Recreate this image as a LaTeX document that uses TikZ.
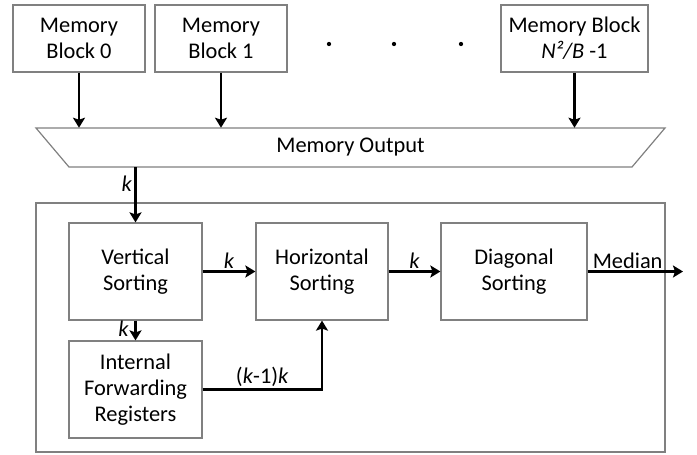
\documentclass[tikz,border=0pt]{standalone}
\usepackage{fontspec}
\setmainfont{Carlito}
\usetikzlibrary{arrows.meta}
\definecolor{boxgray}{RGB}{128,128,128}
\newcommand\pxu{0.75pt}
\begin{document}
\begin{tikzpicture}[x=0.75pt,y=-0.75pt,
  font=\fontsize{16.8}{19.5}\selectfont,
  box/.style={draw=boxgray, line width=0.9pt, align=center, inner sep=0pt},
  arr/.style={line width=2pt, -{Stealth[length=7.5pt,width=9pt,inset=1.5pt]}},
  lbl/.style={inner sep=1.5pt},
  dot/.style={circle, fill=black, inner sep=0pt, minimum size=3.2pt}
]
\useasboundingbox (0,0) rectangle (697,454);

% memory blocks
\node[box, minimum width=132*\pxu, minimum height=67*\pxu] (mb0) at (79,38.5) {Memory\\Block 0};
\node[box, minimum width=132*\pxu, minimum height=67*\pxu] (mb1) at (221,38.5) {Memory\\Block 1};
\node[box, minimum width=147*\pxu, minimum height=67*\pxu] (mbn) at (574.5,38.5) {Memory Block\\\textit{N²/B}~-1};
\node[dot] (d1) at (329,44) {};
\node[dot] (d2) at (394,44) {};
\node[dot] (d3) at (461,44) {};

% memory output stage (trapezoid)
\draw[draw=boxgray, line width=0.9pt] (36,128) -- (665,128) -- (632,167) -- (69,167) -- cycle;
\node[minimum width=629*\pxu, minimum height=39*\pxu, inner sep=0pt] (mo) at (350.5,147.5) {Memory Output};

% sorting core
\node[box, minimum width=629*\pxu, minimum height=249*\pxu] (core) at (350.5,327.5) {};
\node[box, minimum width=133*\pxu, minimum height=97*\pxu] (vs) at (135.5,271.5) {Vertical\\Sorting};
\node[box, minimum width=132*\pxu, minimum height=97*\pxu] (hs) at (322,271.5) {Horizontal\\Sorting};
\node[box, minimum width=146*\pxu, minimum height=97*\pxu] (ds) at (514,271.5) {Diagonal\\Sorting};
\node[box, minimum width=133*\pxu, minimum height=97*\pxu] (ifr) at (135.5,389.5) {Internal\\Forwarding\\Registers};
\coordinate (out) at (683,271.5);

% connectors
\draw[arr] (mb0.south) -- (mb0.south |- mo.north);
\draw[arr] (mb1.south) -- (mb1.south |- mo.north);
\draw[arr] (mbn.south) -- (mbn.south |- mo.north);
\draw[arr] (vs.north |- mo.south) -- node[lbl, left, pos=0.3] {\textit{k}} (vs.north);
\draw[arr] (vs.east) -- node[lbl, above] {\textit{k}} (hs.west);
\draw[arr] (hs.east) -- node[lbl, above] {\textit{k}} (ds.west);
\draw[arr] (ds.east) -- node[lbl, above, pos=0.42] {Median} (out);
\draw[arr] (vs.south) -- node[lbl, left=2.5pt, pos=0.4] {\textit{k}} (ifr.north);
\draw[arr] (ifr.east) -| node[lbl, above, pos=0.25] {(\textit{k}-1)\textit{k}} (hs.south);
\end{tikzpicture}
\end{document}
